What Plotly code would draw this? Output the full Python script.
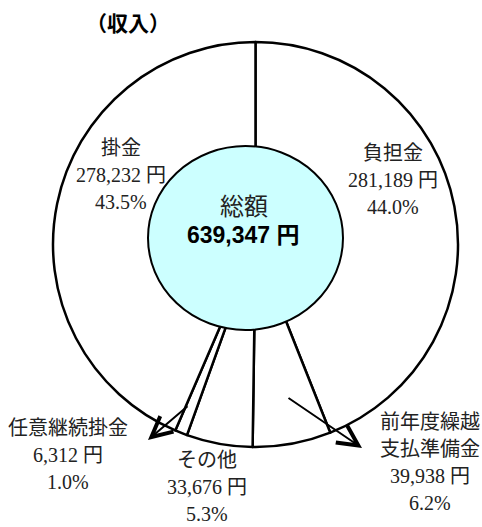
import plotly.graph_objects as go

# Income breakdown (yen), clockwise from 12 o'clock
categories = ["負担金", "前年度繰越支払準備金", "その他", "任意継続掛金", "掛金"]
amounts = [281189, 39938, 33676, 6312, 278232]
label_lines = [["負担金"], ["前年度繰越", "支払準備金"], ["その他"], ["任意継続掛金"], ["掛金"]]
title_text = "（収入）"
total_caption = "総額"

W, H = 482, 527
total = sum(amounts)


def px(x):
    return x / W


def py(y):
    return 1 - y / H


fig = go.Figure()
fig.add_trace(go.Pie(
    labels=categories,
    values=amounts,
    sort=False,
    direction="clockwise",
    rotation=0,
    hole=0.38,
    textinfo="none",
    hoverinfo="skip",
    showlegend=False,
    marker=dict(colors=["white"] * len(amounts), line=dict(color="black", width=2.5)),
    domain=dict(x=[px(53), px(458)], y=[py(447), py(42)]),
))

# centre disc showing the grand total
fig.add_shape(type="circle", xref="paper", yref="paper",
              x0=px(148), x1=px(343), y0=py(330), y1=py(146),
              fillcolor="#CCFFFF", line=dict(color="black", width=2), layer="above")

serif = "Liberation Serif, 'Noto Sans CJK JP', serif"
label_font = dict(family=serif, size=20, color="#222222")

# label anchors: (centre x, first line y) in pixels
label_pos = [(393, 153), (430, 422), (207, 460), (68, 428), (121, 148)]
line_gap = 27

for lines, amt, (cx, cy) in zip(label_lines, amounts, label_pos):
    rows = lines + [f"{amt:,} 円", f"{amt / total * 100:.1f}%"]
    for i, row in enumerate(rows):
        fig.add_annotation(x=px(cx), y=py(cy + i * line_gap), xref="paper", yref="paper",
                           text=row, showarrow=False, xanchor="center", yanchor="middle",
                           font=label_font)

fig.add_annotation(x=px(244), y=py(207), xref="paper", yref="paper", text=total_caption,
                   showarrow=False, xanchor="center", yanchor="middle",
                   font=dict(family=serif, size=24, color="#222222"))
fig.add_annotation(x=px(243), y=py(235), xref="paper", yref="paper",
                   text=f"<b>{total:,} 円</b>", showarrow=False,
                   xanchor="center", yanchor="middle",
                   font=dict(family="Liberation Sans, 'Noto Sans CJK JP', sans-serif",
                             size=23, color="black"))

fig.add_annotation(x=px(128), y=py(22), xref="paper", yref="paper",
                   text=f"<b>{title_text}</b>", showarrow=False,
                   xanchor="center", yanchor="middle",
                   font=dict(family="'Noto Sans CJK JP', sans-serif", size=21, color="black"))

# leader arrows for the small slices
for (hx, hy), (tx, ty) in [((148, 440), (189, 405)), ((362, 448), (287, 397))]:
    fig.add_annotation(x=px(hx), y=py(hy), xref="paper", yref="paper", text="",
                       showarrow=True, ax=tx - hx, ay=ty - hy,
                       arrowhead=5, arrowsize=2, arrowwidth=2, arrowcolor="black",
                       standoff=0, startstandoff=0)

fig.update_layout(width=W, height=H, margin=dict(l=0, r=0, t=0, b=0),
                  paper_bgcolor="white", plot_bgcolor="white")

fig.write_html("out.html")
